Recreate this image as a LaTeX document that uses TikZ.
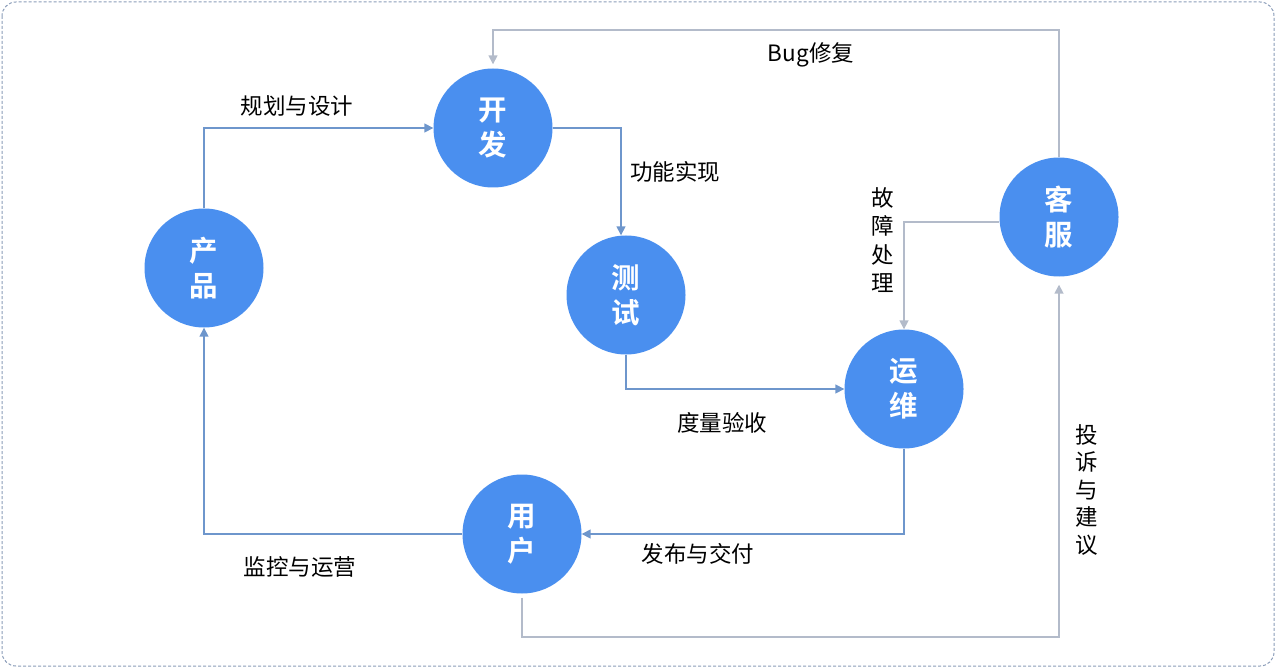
\documentclass[tikz,border=0pt]{standalone}
\usepackage{fontspec}
\setmainfont{Noto Sans CJK SC}[BoldFont={Noto Sans CJK SC Bold}]
\usetikzlibrary{arrows.meta}
\definecolor{circblue}{HTML}{4A8FEF}
\definecolor{linkblue}{HTML}{6E96CC}
\definecolor{linkgray}{HTML}{B3BBCA}
\definecolor{framegray}{HTML}{8A9CB8}
\tikzset{
  stage/.style={circle, fill=circblue, minimum size=119pt, inner sep=0pt, text=white,
    font=\fontsize{28.5}{35}\selectfont\bfseries, align=center},
  lbl/.style={font=\fontsize{22.5}{27}\selectfont, text=black, inner sep=0pt, align=center},
  bluelink/.style={draw=linkblue, line width=1.6pt, -{Triangle[length=9pt,width=9pt]}},
  graylink/.style={draw=linkgray, line width=1.6pt, -{Triangle[length=9pt,width=9pt]}},
}
\begin{document}
\begin{tikzpicture}[x=1pt,y=-1pt]
\useasboundingbox (0,0) rectangle (1276,668);
\draw[framegray, dash pattern=on 3pt off 2pt, line width=1pt, rounded corners=14pt] (2,2) rectangle (1274,666);

\node[stage] (cp) at (204,268) {产\\品};
\node[stage] (kf) at (493,128) {开\\发};
\node[stage] (cs) at (626,295) {测\\试};
\node[stage] (yw) at (904,389) {运\\维};
\node[stage] (kefu) at (1059,217) {客\\服};
\node[stage] (yh) at (522,534) {用\\户};

\coordinate (c1) at (204,128);
\coordinate (c2) at (621,128);
\coordinate (c3) at (626,389);
\coordinate (c4) at (904,534);
\coordinate (c5) at (204,534);
\coordinate (c6a) at (522,637);
\coordinate (c6b) at (1059,637);
\coordinate (c7) at (904,222);
\coordinate (c8a) at (1059,30);
\coordinate (c8b) at (493,30);

\draw[bluelink] (cp.north) -- (c1) -- (kf.west);
\draw[bluelink] (kf.east) -- (c2) -- (c2 |- cs.north);
\draw[bluelink] (cs.south) -- (c3) -- (yw.west);
\draw[bluelink] (yw.south) -- (c4) -- (yh.east);
\draw[bluelink] (yh.west) -- (c5) -- (cp.south);
\draw[graylink, shorten >=8pt] ([yshift=-4pt]yh.south) -- (c6a) -- (c6b) -- (kefu.south);
\draw[graylink] (kefu.west |- c7) -- (c7) -- (yw.north);
\draw[graylink, shorten >=4pt] (kefu.north) -- (c8a) -- (c8b) -- (kf.north);

\node[lbl] (l1) at (297,106) {规划与设计};
\node[lbl] (l2) at (675,172) {功能实现};
\node[lbl] (l3) at (722,423) {度量验收};
\node[lbl] (l4) at (698,554) {发布与交付};
\node[lbl] (l5) at (300,567) {监控与运营};
\node[lbl] (l6) at (811,55) {Bug修复};
\node[lbl, font=\fontsize{22.5}{28.5}\selectfont] (l7) at (883,240) {故\\障\\处\\理};
\node[lbl, font=\fontsize{22.5}{27.5}\selectfont] (l8) at (1087,490) {投\\诉\\与\\建\\议};
\end{tikzpicture}
\end{document}
